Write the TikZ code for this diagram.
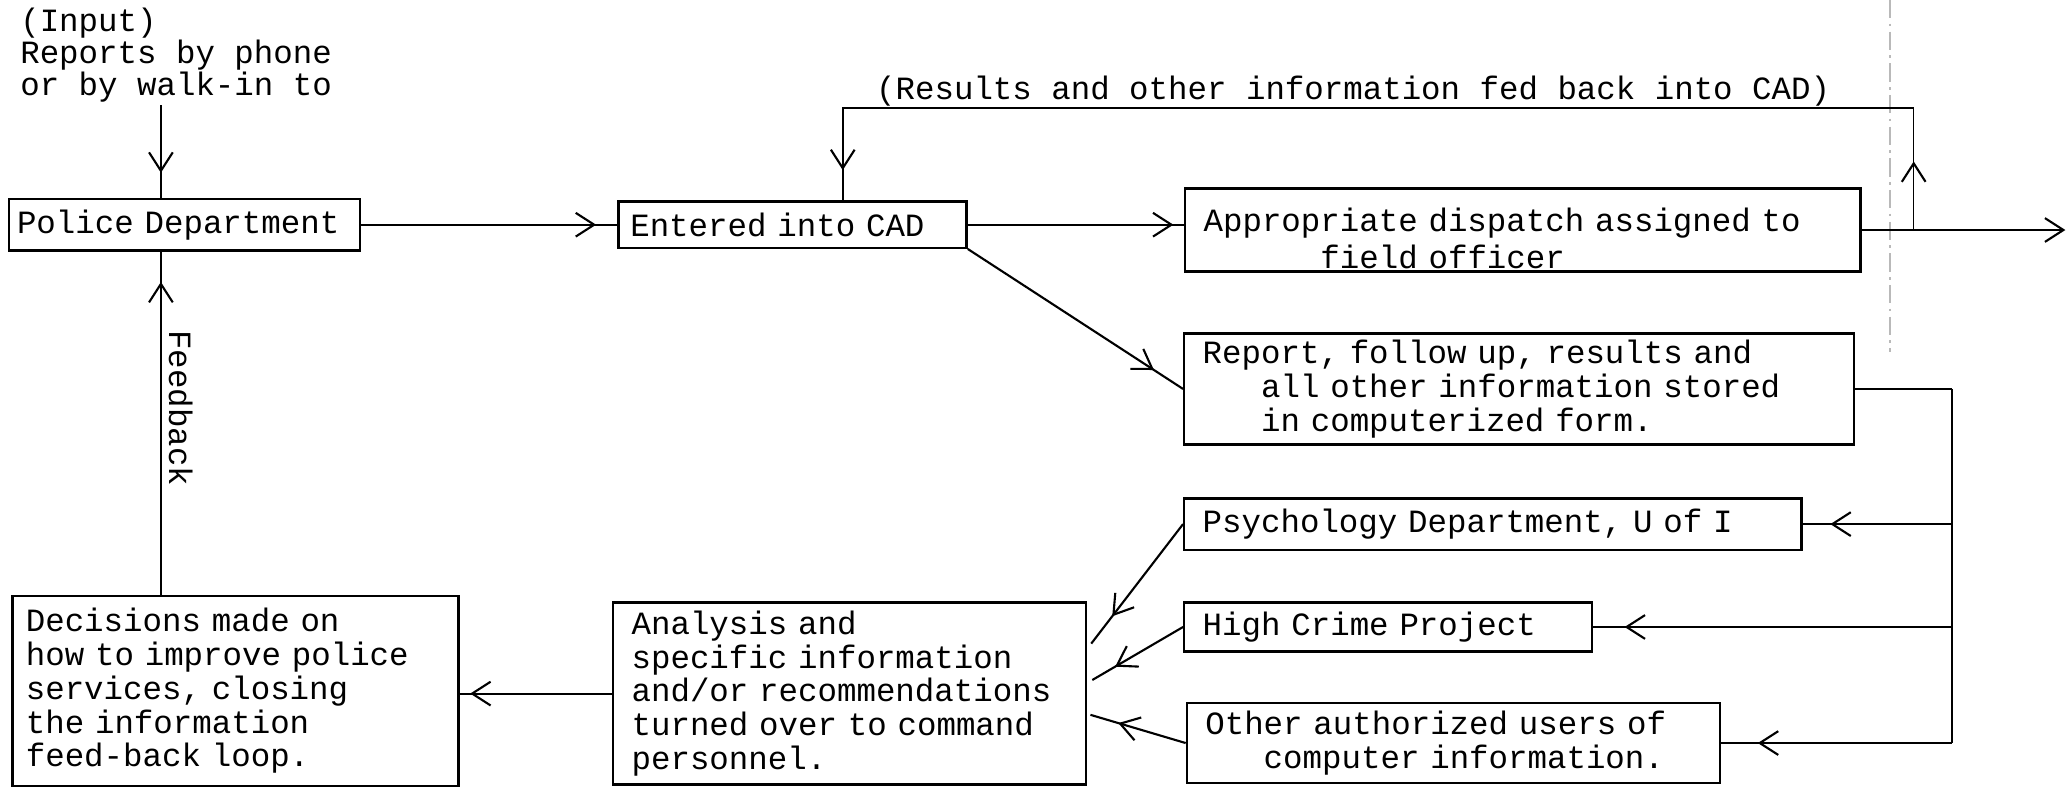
\documentclass[tikz,border=0pt]{standalone}
\usepackage{fontspec}
\newfontfamily\twfont{Liberation Mono}
\newcommand{\twsize}[1]{\twfont\fontsize{12.3}{#1}\selectfont\fontdimen2\font=\fontcharwd\font`a\relax\fontdimen3\font=0pt\relax\fontdimen4\font=0pt\relax}
\usetikzlibrary{arrows.meta,decorations.markings,calc}
\tikzset{
  tw/.style={font=\twsize{12.8pt}},
  bx/.style={tw, draw, line width=0.9pt, anchor=north west, align=left, inner ysep=0pt},
  ln/.style={line width=0.8pt},
  thinln/.style={line width=0.55pt},
  tipat/.style={postaction={decorate}, decoration={markings, mark=at position #1 with {\arrow[line width=0.8pt]{Straight Barb[length=7pt,width=9pt]}}}},
  tiptwo/.style 2 args={postaction={decorate}, decoration={markings,
     mark=at position #1 with {\arrow[line width=0.8pt]{Straight Barb[length=7pt,width=9pt]}},
     mark=at position #2 with {\arrow[line width=0.8pt]{Straight Barb[length=7pt,width=9pt]}}}},
}
\begin{document}
\begin{tikzpicture}[x=0.5pt,y=-0.5pt]
\useasboundingbox (0,0) rectangle (1568,597);

% scan artifact line
\draw[gray!55, line width=0.5pt, dash pattern=on 7pt off 2pt on 1pt off 2pt] (1433,0) -- (1433,267);

% boxes
\node[bx, text width=127pt, inner xsep=3pt, minimum height=19.5pt] (police) at (6,150) {Police Department};
\node[bx, text width=123pt, inner xsep=4.5pt, minimum height=17.5pt] (cad) at (468,152) {Entered into CAD};
\node[bx, text width=242pt, inner xsep=7pt, minimum height=31.5pt] (dispatch) at (897.7,142)
  {\rule{0pt}{15pt}Appropriate dispatch assigned to\\[1.2pt]\hphantom{000000}field officer};
\node[bx, text width=240pt, inner xsep=7pt, minimum height=42pt] (report) at (897,252)
  {Report, follow up, results and\\\hphantom{000}all other information stored\\\hphantom{000}in computerized form.};
\node[bx, text width=220pt, inner xsep=7pt, minimum height=19.5pt] (psych) at (897,377) {Psychology Department, U of I};
\node[bx, text width=140.5pt, inner xsep=7pt, minimum height=18.5pt] (high) at (897,456) {High Crime Project};
\node[bx, text width=188pt, inner xsep=7pt, minimum height=30.5pt] (other) at (899,532)
  {Other authorized users of\\\hphantom{000}computer information.};
\node[bx, text width=165.3pt, inner xsep=7pt, minimum height=69pt] (analysis) at (464,456)
  {Analysis and\\specific information\\and/or recommendations\\turned over to command\\personnel.};
\node[bx, text width=159pt, inner xsep=5pt, minimum height=72pt] (decisions) at (8.7,451)
  {Decisions made on\\how to improve police\\services, closing\\the information\\feed-back loop.};

% free texts
\node[font=\twsize{12pt}, anchor=north west, align=left, inner sep=0pt] (input) at (15,6)
  {(Input)\\Reports by phone\\or by walk-in to};
\node[tw, inner sep=0pt] (res) at (1026,69) {(Results and other information fed back into CAD)};
\node[tw, rotate=-90, inner sep=0pt] (fb) at (137,309.5) {Feedback};

% helper coordinates
\coordinate (inx) at (122,0);
\coordinate (fbx) at (122,0);
\coordinate (upx) at (1451,0);
\coordinate (dnx) at (639,0);
\coordinate (topy) at (0,82);
\coordinate (busx) at (1480,0);
\coordinate (outend) at (1566,0);

% connectors
\draw[thinln, tipat=-9.5pt] ($(input.south -| inx)+(0,2)$) -- (police.north -| inx);
\draw[ln, tipat=-8pt] (police.east) -- (cad.west);
\draw[ln, tipat=-4pt] (cad.east) -- (cad.east -| dispatch.west);
\draw[ln, -{Straight Barb[length=7pt,width=9pt]}] (dispatch.east) -- (dispatch.east -| outend);
\draw[thinln, tiptwo={26pt}{-11.5pt}] (dispatch.east -| upx) -- (upx |- topy) -- (dnx |- topy) -- (cad.north -| dnx);
\draw[ln, tipat=-13pt] (cad.south east) -- (report.west);

\draw[ln] (report.east) -- (report.east -| busx);
\draw[thinln] (report.east -| busx) -- (other.east -| busx);
\draw[ln, tipat=-10.5pt] (psych.east -| busx) -- (psych.east);
\draw[ln, tipat=-12pt] (high.east -| busx) -- (high.east);
\draw[ln, tipat=-14pt] (other.east -| busx) -- (other.east);

\draw[ln, tipat=-13pt] (psych.west) -- ($(analysis.north east)+(3,32)$);
\draw[ln, tipat=-10pt] (high.west) -- ($(analysis.north east)+(3.8,59.6)$);
\draw[ln, tipat=-11pt] (other.west) -- ($(analysis.north east)+(2.4,86)$);

\draw[ln, tipat=-4pt] (analysis.west) -- (analysis.west -| decisions.east);
\draw[thinln, tipat=-11.5pt] (decisions.north -| fbx) -- (police.south -| fbx);
\end{tikzpicture}
\end{document}
